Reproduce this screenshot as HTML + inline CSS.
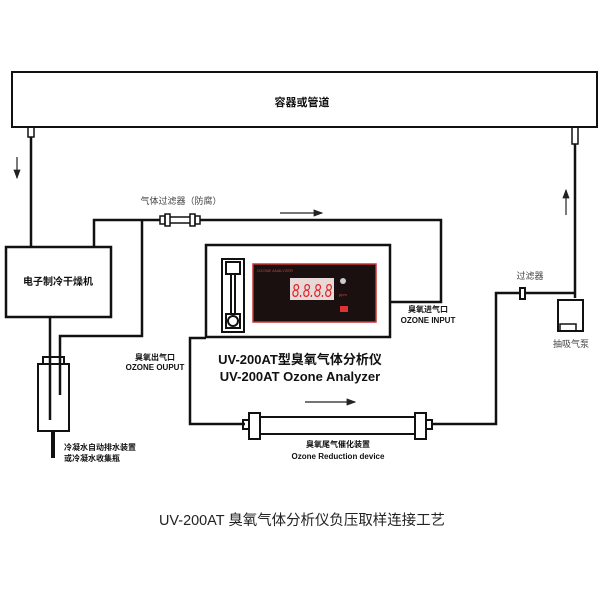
<!DOCTYPE html>
<html><head><meta charset="utf-8"><style>
body{margin:0;background:#fff;}
svg text{font-family:"Liberation Sans","Noto Sans CJK SC",sans-serif;}
</style></head><body>
<svg width="600" height="600" viewBox="0 0 600 600" xmlns="http://www.w3.org/2000/svg">
<defs><marker id="ah" markerWidth="8" markerHeight="6" refX="7" refY="3" orient="auto"><path d="M0,0 L8,3 L0,6z" fill="#222"/></marker></defs>
<g fill="none" stroke="#111" stroke-width="2.5">
<rect x="12" y="72" width="585" height="55" stroke-width="2"/>
<rect x="28" y="127" width="6" height="10" stroke-width="1.5"/>
<line x1="31" y1="137" x2="31" y2="247"/>
<rect x="572" y="127" width="6" height="17" stroke-width="1.5"/>
<line x1="575" y1="144" x2="575" y2="298"/>
<rect x="6" y="247" width="105" height="70"/>
<polyline points="94,247 94,220 160,220"/>
<polyline points="142,220 142,336 60,336 60,395"/>
<line x1="50" y1="317" x2="50" y2="420"/>
<rect x="38" y="364" width="31" height="67" stroke-width="2"/>
<rect x="43" y="357" width="21" height="7" stroke-width="2"/>
<line x1="53" y1="431" x2="53" y2="458" stroke-width="4"/>
<rect x="160" y="216" width="5" height="8" stroke-width="1.5"/>
<rect x="165" y="214" width="5" height="12" stroke-width="1.5"/>
<line x1="170" y1="217" x2="190" y2="217" stroke-width="1.5"/>
<line x1="170" y1="223" x2="190" y2="223" stroke-width="1.5"/>
<rect x="190" y="214" width="5" height="12" stroke-width="1.5"/>
<rect x="195" y="216" width="5" height="8" stroke-width="1.5"/>
<polyline points="200,220 441,220 441,302 390,302"/>
<rect x="206" y="245" width="184" height="92"/>
<polyline points="206,338 190,338 190,424 245,424"/>
<rect x="243" y="420" width="6" height="9" stroke-width="2"/>
<rect x="249" y="413" width="11" height="26" stroke-width="2"/>
<line x1="260" y1="417" x2="415" y2="417" stroke-width="2"/>
<line x1="260" y1="434" x2="415" y2="434" stroke-width="2"/>
<rect x="415" y="413" width="11" height="26" stroke-width="2"/>
<rect x="426" y="420" width="6" height="9" stroke-width="2"/>
<polyline points="432,424 496,424 496,293 520,293"/>
<rect x="520" y="288" width="5" height="11" stroke-width="2"/>
<line x1="525" y1="293" x2="575" y2="293"/>
<rect x="558" y="300" width="25" height="31" stroke-width="2"/>
<rect x="560" y="324" width="16" height="7" stroke-width="1.5"/>
</g>
<g fill="none" stroke="#111" stroke-width="2">
<rect x="222" y="259" width="22" height="73"/>
<rect x="226" y="262" width="14" height="12"/>
<line x1="231" y1="274" x2="231" y2="314"/><line x1="235" y1="274" x2="235" y2="314"/>
<rect x="226" y="314" width="14" height="14"/>
<circle cx="233" cy="321" r="5"/>
</g>
<rect x="253" y="264" width="123" height="58" fill="#1a1010" stroke="#c33" stroke-width="1.5"/>
<text x="257" y="272" font-size="4" fill="#c44">OZONE ANALYZER</text>
<rect x="290" y="278" width="44" height="22" fill="#e8d8d8"/>
<text x="292" y="297" font-size="18" fill="#d22" font-style="italic" textLength="40" lengthAdjust="spacingAndGlyphs">8.8.8.8</text>
<circle cx="343" cy="281" r="3" fill="#ccc"/>
<text x="339" y="296" font-size="4" fill="#c44">ppm</text>
<rect x="340" y="306" width="8" height="6" fill="#d33"/>
<g stroke="#222" stroke-width="1.2" fill="none">
<line x1="17" y1="157" x2="17" y2="178" marker-end="url(#ah)"/>
<line x1="566" y1="215" x2="566" y2="190" marker-end="url(#ah)"/>
<line x1="280" y1="213" x2="322" y2="213" marker-end="url(#ah)"/>
<line x1="305" y1="402" x2="355" y2="402" marker-end="url(#ah)"/>
</g>
<g fill="#111">
<text x="302" y="106" font-size="11" font-weight="bold" text-anchor="middle">容器或管道</text>
<text x="58" y="285" font-size="10" font-weight="bold" text-anchor="middle">电子制冷干燥机</text>
<text x="181" y="204" font-size="9" fill="#444" text-anchor="middle">气体过滤器（防腐）</text>
<text x="155" y="360" font-size="8" font-weight="bold" text-anchor="middle">臭氧出气口</text>
<text x="155" y="370" font-size="8" font-weight="bold" text-anchor="middle">OZONE OUPUT</text>
<text x="428" y="312" font-size="8" font-weight="bold" text-anchor="middle">臭氧进气口</text>
<text x="428" y="323" font-size="8" font-weight="bold" text-anchor="middle">OZONE INPUT</text>
<text x="300" y="364" font-size="13" font-weight="bold" text-anchor="middle">UV-200AT型臭氧气体分析仪</text>
<text x="300" y="381" font-size="13" font-weight="bold" text-anchor="middle">UV-200AT Ozone Analyzer</text>
<text x="338" y="447" font-size="8" font-weight="bold" text-anchor="middle">臭氧尾气催化装置</text>
<text x="338" y="459" font-size="8" font-weight="bold" text-anchor="middle">Ozone Reduction device</text>
<text x="64" y="450" font-size="8" font-weight="bold">冷凝水自动排水装置</text>
<text x="64" y="461" font-size="8" font-weight="bold">或冷凝水收集瓶</text>
<text x="530" y="279" font-size="9" fill="#444" text-anchor="middle">过滤器</text>
<text x="571" y="347" font-size="9" fill="#444" text-anchor="middle">抽吸气泵</text>
<text x="302" y="525" font-size="14.5" fill="#222" text-anchor="middle" textLength="286" lengthAdjust="spacingAndGlyphs">UV-200AT 臭氧气体分析仪负压取样连接工艺</text>
</g>
</svg>
</body></html>
